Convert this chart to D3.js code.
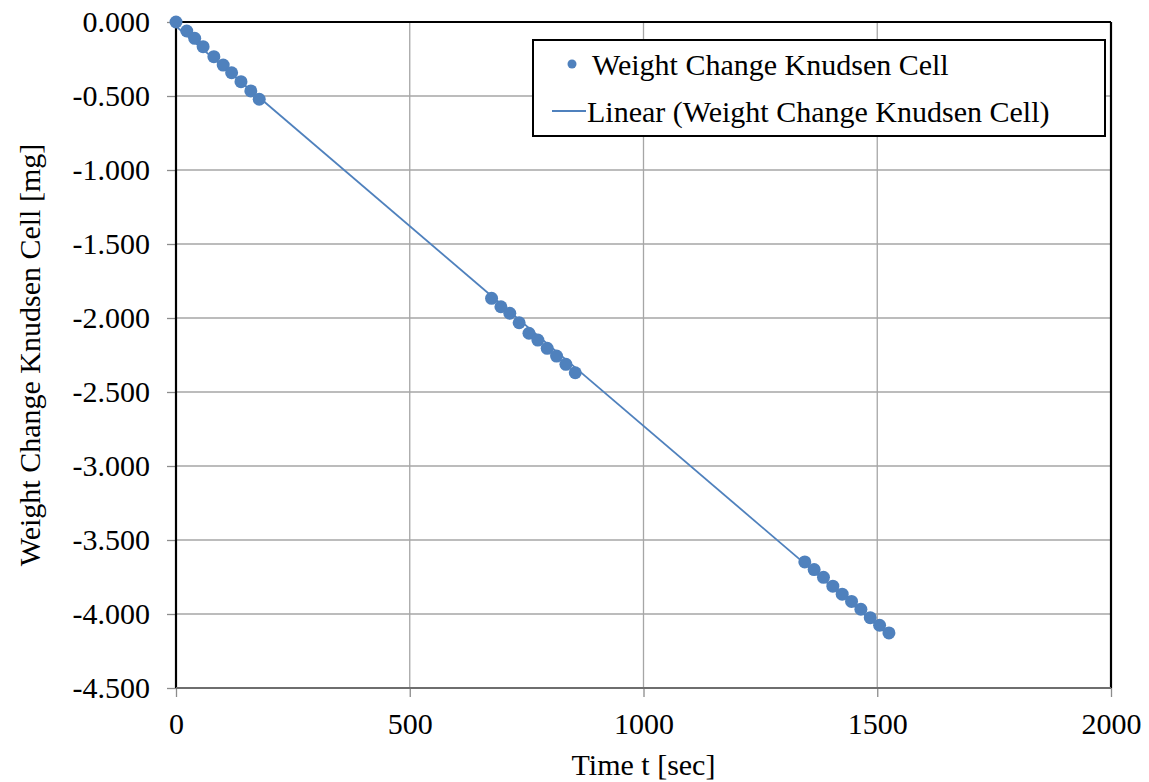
<!doctype html>
<html>
<head>
<meta charset="utf-8">
<title>Weight Change Knudsen Cell</title>
<style>
  body { margin: 0; background: #fff; }
  text { font-family: "Liberation Serif", "Tinos", "DejaVu Serif", serif !important; }
  .grid line { stroke: #a6a6a6; stroke-width: 1.3; }
  .axis path { display: none; }
  .axis line { stroke: #8c8c8c; stroke-width: 1.3; }
  .axis text { font-size: 30px; fill: #000; }
</style>
</head>
<body>
<div id="chart"></div>
<script src="https://d3js.org/d3.v7.min.js"></script>
<script>
// data (time in sec, weight change in mg)
var timeSec = [0, 23, 40, 58, 81, 101, 119, 139, 160, 178,
               675, 695, 714, 734, 755, 774, 794, 814, 834, 854,
               1345, 1365, 1385, 1405, 1425, 1445, 1465, 1485, 1505, 1525];
var weightMg = [0.000, -0.061, -0.110, -0.167, -0.234, -0.291, -0.343, -0.403, -0.466, -0.522,
                -1.867, -1.924, -1.968, -2.032, -2.103, -2.149, -2.205, -2.257, -2.313, -2.370,
                -3.648, -3.700, -3.752, -3.812, -3.866, -3.915, -3.968, -4.025, -4.076, -4.128];
var xTicks = [0, 500, 1000, 1500, 2000];
var yTicks = [0, -0.5, -1, -1.5, -2, -2.5, -3, -3.5, -4, -4.5];
var seriesName = "Weight Change Knudsen Cell";
var trendName = "Linear (Weight Change Knudsen Cell)";

var W = 1149, H = 782;
var margin = {top: 22, right: 38, bottom: 94, left: 176};
var width = W - margin.left - margin.right,
    height = H - margin.top - margin.bottom;
var blue = "#4f81bd";
var serif = "'Liberation Serif', 'Tinos', 'DejaVu Serif', serif";

var svg = d3.select("#chart").append("svg")
    .attr("width", W).attr("height", H)
    .attr("font-family", serif);
var g = svg.append("g")
    .attr("transform", "translate(" + margin.left + "," + margin.top + ")");

var x = d3.scaleLinear().domain([0, 2000]).range([0, width]);
var y = d3.scaleLinear().domain([-4.5, 0]).range([height, 0]);

// gridlines
g.append("g").attr("class", "grid")
  .selectAll("line").data(yTicks).enter().append("line")
    .attr("x1", 0).attr("x2", width)
    .attr("y1", d => y(d)).attr("y2", d => y(d));
g.append("g").attr("class", "grid")
  .selectAll("line").data(xTicks).enter().append("line")
    .attr("y1", 0).attr("y2", height)
    .attr("x1", d => x(d)).attr("x2", d => x(d));

// axes
g.append("g").attr("class", "axis")
  .attr("transform", "translate(0," + height + ")")
  .call(d3.axisBottom(x).tickValues(xTicks).tickSize(9).tickPadding(16).tickFormat(d3.format("d")))
  .attr("font-family", serif);
g.append("g").attr("class", "axis")
  .call(d3.axisLeft(y).tickValues(yTicks).tickSize(9).tickPadding(17).tickFormat(d => d.toFixed(3)))
  .attr("font-family", serif);

// plot frame
g.append("line").attr("x1", 0).attr("x2", width).attr("y1", 0).attr("y2", 0)
  .attr("stroke", "#000").attr("stroke-width", 2.2);
g.append("line").attr("x1", 0).attr("x2", 0).attr("y1", 0).attr("y2", height)
  .attr("stroke", "#000").attr("stroke-width", 2.2);
g.append("line").attr("x1", width).attr("x2", width).attr("y1", 0).attr("y2", height)
  .attr("stroke", "#000").attr("stroke-width", 2.2);
g.append("line").attr("x1", 0).attr("x2", width).attr("y1", height).attr("y2", height)
  .attr("stroke", "#6e6e6e").attr("stroke-width", 2);

// linear trendline (least squares over the points)
var n = timeSec.length;
var mx = d3.mean(timeSec), my = d3.mean(weightMg);
var sxy = 0, sxx = 0;
for (var i = 0; i < n; i++) {
  sxy += (timeSec[i] - mx) * (weightMg[i] - my);
  sxx += (timeSec[i] - mx) * (timeSec[i] - mx);
}
var slope = sxy / sxx, icpt = my - slope * mx;
var tExt = d3.extent(timeSec);
g.append("line")
  .attr("x1", x(tExt[0])).attr("y1", y(icpt + slope * tExt[0]))
  .attr("x2", x(tExt[1])).attr("y2", y(icpt + slope * tExt[1]))
  .attr("stroke", blue).attr("stroke-width", 1.8);

// points
g.append("g").selectAll("circle")
  .data(timeSec.map((t, i) => [t, weightMg[i]]))
  .enter().append("circle")
    .attr("cx", d => x(d[0])).attr("cy", d => y(d[1]))
    .attr("r", 6.5).attr("fill", blue);

// axis titles
svg.append("text")
  .attr("x", margin.left + width / 2).attr("y", 775)
  .attr("text-anchor", "middle").style("font-size", "30px")
  .text("Time t [sec]");
svg.append("text")
  .attr("transform", "translate(40," + (margin.top + height / 2) + ") rotate(-90)")
  .attr("text-anchor", "middle").style("font-size", "30px")
  .text("Weight Change Knudsen Cell [mg]");

// legend
var lg = svg.append("g").attr("transform", "translate(533,40)");
lg.append("rect").attr("width", 572).attr("height", 96)
  .attr("fill", "#fff").attr("stroke", "#000").attr("stroke-width", 2);
lg.append("circle").attr("cx", 39).attr("cy", 24).attr("r", 4.5).attr("fill", blue);
lg.append("text").attr("x", 59).attr("y", 35).style("font-size", "30px").text(seriesName);
lg.append("line").attr("x1", 19).attr("x2", 53).attr("y1", 71).attr("y2", 71)
  .attr("stroke", blue).attr("stroke-width", 1.8);
lg.append("text").attr("x", 54).attr("y", 82).style("font-size", "30px").text(trendName);
</script>
</body>
</html>
